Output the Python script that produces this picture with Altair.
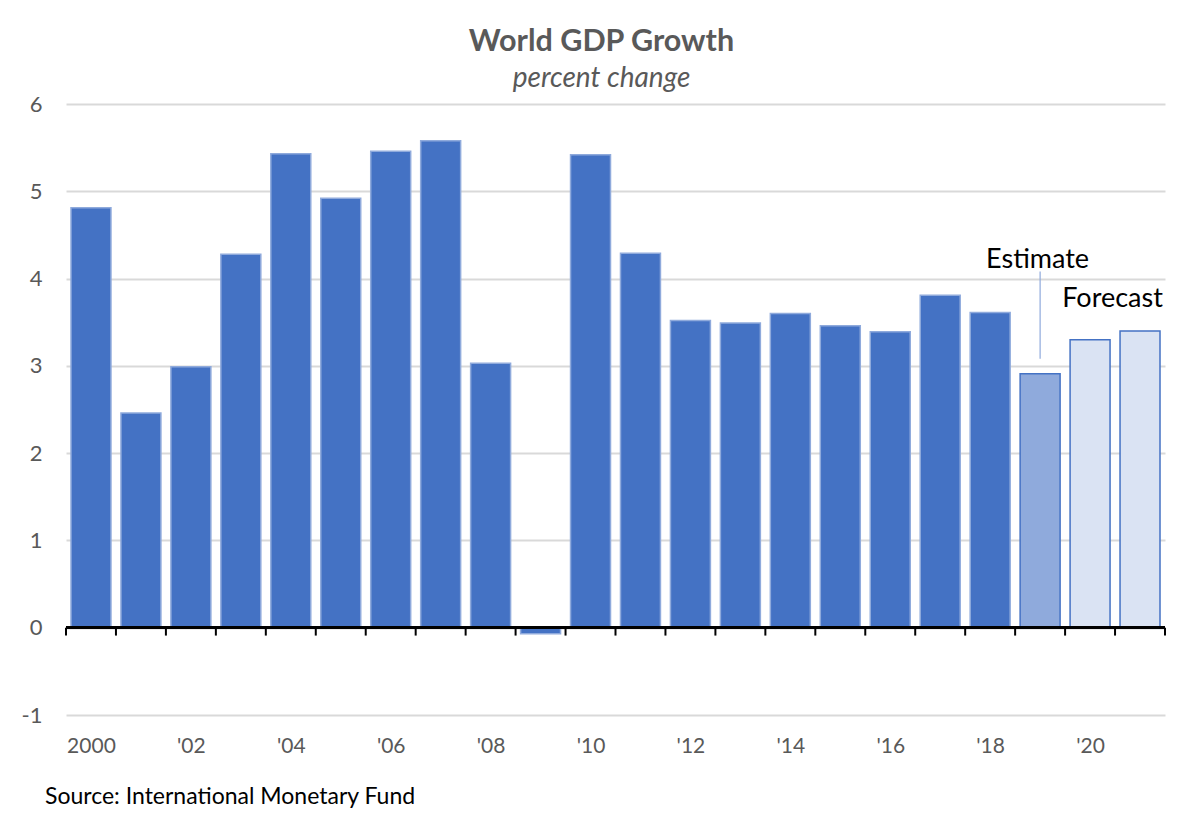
import altair as alt
import pandas as pd

years = list(range(2000, 2022))
growth = [4.81, 2.46, 2.99, 4.28, 5.43, 4.92, 5.46, 5.58, 3.03, -0.07,
          5.42, 4.29, 3.52, 3.49, 3.60, 3.46, 3.39, 3.81, 3.61, 2.91, 3.30, 3.40]
kind = ["Actual"] * 19 + ["Estimate"] + ["Forecast"] * 2

tick_years = list(range(2000, 2021, 2))
tick_labels = ["2000", "'02", "'04", "'06", "'08", "'10", "'12", "'14", "'16", "'18", "'20"]
y_ticks = [-1, 0, 1, 2, 3, 4, 5, 6]

annotations = pd.DataFrame({
    "label": ["Estimate", "Forecast"],
    "x": [2018.95, 2020.45],
    "y": [4.21, 3.77],
})
leader = pd.DataFrame({"x": [2019.0], "y": [4.08], "y2": [3.08]})

FONT = "Lato"
GRAY = "#595959"

df = pd.DataFrame({"year": years, "growth": growth, "kind": kind})
boundaries = pd.DataFrame({"b": [y - 0.5 for y in years] + [years[-1] + 0.5]})

label_expr = ""
for y, l in zip(tick_years, tick_labels):
    label_expr += f"datum.value == {y} ? \"{l}\" : "
label_expr += "''"

xscale = alt.Scale(domain=[years[0] - 0.5, years[-1] + 0.5], nice=False, zero=False)
yscale = alt.Scale(domain=[-1, 6], nice=False)

bars = alt.Chart(df).transform_calculate(
    x0="datum.year - 0.4", x1="datum.year + 0.4"
).mark_bar(strokeWidth=1.5).encode(
    x=alt.X("x0:Q", scale=xscale, axis=alt.Axis(
        values=tick_years, labelExpr=label_expr, title=None, grid=False,
        domain=False, ticks=False, tickSize=0, labelPadding=20,
        labelFont=FONT, labelFontSize=21, labelColor=GRAY)),
    x2="x1:Q",
    y=alt.Y("growth:Q", scale=yscale, axis=alt.Axis(
        values=y_ticks, labelExpr="'' + datum.value", title=None, domain=False, ticks=False,
        tickSize=0, labelPadding=24, gridColor="#D9D9D9", gridWidth=2,
        labelFont=FONT, labelFontSize=22, labelColor=GRAY)),
    y2=alt.datum(0),
    fill=alt.Color("kind:N", legend=None, scale=alt.Scale(
        domain=["Actual", "Estimate", "Forecast"],
        range=["#4472C4", "#8FAADC", "#DAE3F3"])),
    stroke=alt.Stroke("kind:N", legend=None, scale=alt.Scale(
        domain=["Actual", "Estimate", "Forecast"],
        range=["#8FAADC", "#4472C4", "#4472C4"])),
)

zero = alt.Chart(boundaries).mark_rule(color="black", strokeWidth=2).encode(
    y=alt.datum(0), x=alt.value(0), x2=alt.value(1099)
)

ticks = alt.Chart(boundaries).mark_rule(color="black", strokeWidth=2).encode(
    x=alt.X("b:Q", scale=xscale), y=alt.datum(0), y2=alt.datum(-0.09)
)

lead = alt.Chart(leader).mark_rule(color="#8FAADC", strokeWidth=1.2).encode(
    x=alt.X("x:Q", scale=xscale), y=alt.Y("y:Q", scale=yscale), y2="y2:Q"
)

ann = alt.Chart(annotations).mark_text(
    font=FONT, fontSize=27, color="black", align="center", baseline="middle"
).encode(
    x=alt.X("x:Q", scale=xscale), y=alt.Y("y:Q", scale=yscale), text="label:N"
)

source = alt.Chart(pd.DataFrame({"t": ["Source: International Monetary Fund"]})).mark_text(
    font=FONT, fontSize=23, color="black", align="left", baseline="middle"
).encode(x=alt.value(-21), y=alt.value(693), text="t:N")

chart = alt.layer(bars, zero, ticks, lead, ann, source).properties(
    width=1099, height=611,
    background="white",
    title=alt.Title("World GDP Growth", subtitle="percent change",
                    font=FONT, fontSize=30.5, fontWeight="bold", color=GRAY,
                    subtitleFont=FONT, subtitleFontSize=28, subtitleFontStyle="italic",
                    subtitleColor=GRAY, subtitlePadding=8, anchor="middle", dx=-14, offset=0),
    autosize=alt.AutoSizeParams(type="none"),
    padding={"left": 58, "top": 96, "right": 31, "bottom": 99},
).configure_view(stroke="transparent", strokeWidth=0).configure_axisX(grid=False)

chart.save("out.html", embed_options={"renderer": "svg", "actions": False})
